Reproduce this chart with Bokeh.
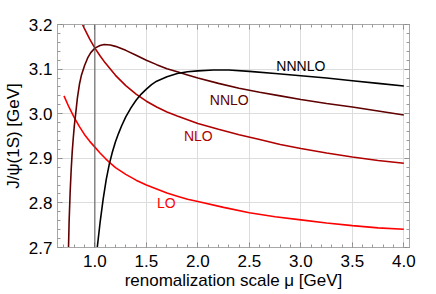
from bokeh.plotting import figure
from bokeh.models import FixedTicker, PrintfTickFormatter, LinearAxis, Span, Range1d, Label
from bokeh.embed import file_html
from bokeh.resources import INLINE

# ---- data ----
mu_lo = [0.70, 0.75, 0.80, 0.85, 0.90, 0.95, 1.00, 1.05, 1.10, 1.15, 1.20, 1.30, 1.40, 1.50,
         1.60, 1.70, 1.80, 1.90, 2.00, 2.25, 2.50, 2.75, 3.00, 3.25, 3.50, 3.75, 4.00]
m_lo = [3.040, 3.014, 2.991, 2.971, 2.953, 2.938, 2.925, 2.912, 2.900, 2.889, 2.879, 2.864, 2.851, 2.840,
        2.831, 2.822, 2.815, 2.808, 2.803, 2.790, 2.778, 2.769, 2.762, 2.755, 2.749, 2.744, 2.741]

mu_nlo = [0.88, 0.90, 0.95, 1.00, 1.05, 1.10, 1.15, 1.20, 1.30, 1.40, 1.50, 1.60, 1.70, 1.80,
          2.00, 2.20, 2.40, 2.60, 2.80, 3.00, 3.25, 3.50, 3.75, 4.00]
m_nlo = [3.200, 3.190, 3.167, 3.147, 3.130, 3.114, 3.100, 3.086, 3.063, 3.044, 3.028, 3.015, 3.004, 2.995,
         2.978, 2.965, 2.953, 2.942, 2.931, 2.922, 2.912, 2.903, 2.895, 2.889]

mu_nnlo = [0.744, 0.750, 0.760, 0.770, 0.780, 0.790, 0.800, 0.815, 0.830, 0.850, 0.870, 0.900, 0.930,
           0.960, 1.000, 1.050, 1.090, 1.150, 1.200, 1.300, 1.400, 1.500, 1.600, 1.700, 1.800, 1.900,
           2.000, 2.200, 2.400, 2.600, 2.800, 3.000, 3.250, 3.500, 3.750, 4.000]
m_nnlo = [2.700, 2.760, 2.825, 2.875, 2.915, 2.945, 2.972, 3.003, 3.035, 3.066, 3.087, 3.108, 3.125,
          3.137, 3.147, 3.153, 3.155, 3.154, 3.151, 3.142, 3.131, 3.120, 3.110, 3.101, 3.094, 3.087,
          3.080, 3.068, 3.057, 3.048, 3.040, 3.032, 3.023, 3.015, 3.006, 2.997]

mu_nnnlo = [1.023, 1.050, 1.080, 1.110, 1.140, 1.170, 1.200, 1.230, 1.260, 1.300, 1.350, 1.400, 1.450,
            1.500, 1.550, 1.600, 1.700, 1.800, 1.900, 2.000, 2.150, 2.300, 2.500, 2.750, 3.000, 3.250,
            3.500, 3.750, 4.000]
m_nnnlo = [2.700, 2.755, 2.808, 2.852, 2.887, 2.914, 2.937, 2.956, 2.973, 2.993, 3.013, 3.030, 3.044,
           3.055, 3.065, 3.073, 3.083, 3.090, 3.094, 3.096, 3.098, 3.098, 3.095, 3.090, 3.085, 3.080,
           3.074, 3.068, 3.062]

series_names = ["LO", "NLO", "NNLO", "NNNLO"]
ref_mu = 1.0

x_major = [1.0, 1.5, 2.0, 2.5, 3.0, 3.5, 4.0]
x_minor = [round(0.7 + 0.1 * i, 2) for i in range(34)]
y_major = [2.7, 2.8, 2.9, 3.0, 3.1, 3.2]
y_minor = [round(2.7 + 0.02 * i, 2) for i in range(26)]

x_title = "renomalization scale μ [GeV]"
y_title = "J/ψ(1S) [GeV]"

# ---- styles ----
colors = {"LO": "#ff0000", "NLO": "#b00000", "NNLO": "#600000", "NNNLO": "#000000"}
label_pos = {"LO": (1.694, 2.799), "NLO": (2.004, 2.949), "NNLO": (2.305, 3.031), "NNNLO": (3.0, 3.106)}
FONT = "Liberation Sans"
FRAME = "#a8a8a8"

p = figure(width=436, height=294, output_backend="svg", toolbar_location=None,
           x_range=Range1d(0.637, 4.055), y_range=Range1d(2.7, 3.2),
           min_border_left=53, min_border_right=27, min_border_top=24, min_border_bottom=47)
p.background_fill_color = "white"
p.border_fill_color = "white"
p.outline_line_color = FRAME

xt = FixedTicker(ticks=x_major, minor_ticks=x_minor)
yt = FixedTicker(ticks=y_major, minor_ticks=y_minor)
fmt = PrintfTickFormatter(format="%.1f")

for ax, t in ((p.xaxis[0], xt), (p.yaxis[0], yt)):
    ax.ticker = t
    ax.formatter = fmt
    ax.major_tick_in = 5
    ax.major_tick_out = 0
    ax.minor_tick_in = 3
    ax.minor_tick_out = 0
    ax.axis_line_color = FRAME
    ax.major_tick_line_color = "#888888"
    ax.minor_tick_line_color = "#999999"
    ax.major_label_text_font = FONT
    ax.major_label_text_font_size = "17px"
    ax.major_label_text_color = "#000000"
    ax.axis_label_text_font = FONT
    ax.axis_label_text_font_size = "17px"
    ax.axis_label_text_font_style = "normal"
    ax.axis_label_text_color = "#000000"

p.xaxis[0].axis_label = x_title
p.yaxis[0].axis_label = y_title
p.xaxis[0].major_label_standoff = 7
p.xaxis[0].axis_label_standoff = 1
p.yaxis[0].major_label_standoff = 5
p.yaxis[0].axis_label_standoff = 3

for loc, t in (("above", xt), ("right", yt)):
    ax = LinearAxis(ticker=t, major_label_text_font_size="1px", major_label_text_color=None,
                    major_label_standoff=0,
                    major_tick_in=5, major_tick_out=0, minor_tick_in=3, minor_tick_out=0,
                    axis_line_color=FRAME, major_tick_line_color="#888888",
                    minor_tick_line_color="#999999")
    p.add_layout(ax, loc)

p.xgrid.ticker = xt
p.ygrid.ticker = yt
p.grid.grid_line_color = "#dddddd"
p.grid.grid_line_width = 1

p.add_layout(Span(location=ref_mu, dimension="height", line_color="#555555", line_width=1))

data = {"LO": (mu_lo, m_lo), "NLO": (mu_nlo, m_nlo), "NNLO": (mu_nnlo, m_nnlo), "NNNLO": (mu_nnnlo, m_nnnlo)}
for name in series_names:
    xs, ys = data[name]
    p.line(xs, ys, line_color=colors[name], line_width=1.6)

for name in series_names:
    x, y = label_pos[name]
    p.add_layout(Label(x=x, y=y, text=name, text_font=FONT, text_font_size="14px",
                       text_color=colors[name], text_align="center", text_baseline="middle"))

open("out.html", "w").write(file_html(p, INLINE))
